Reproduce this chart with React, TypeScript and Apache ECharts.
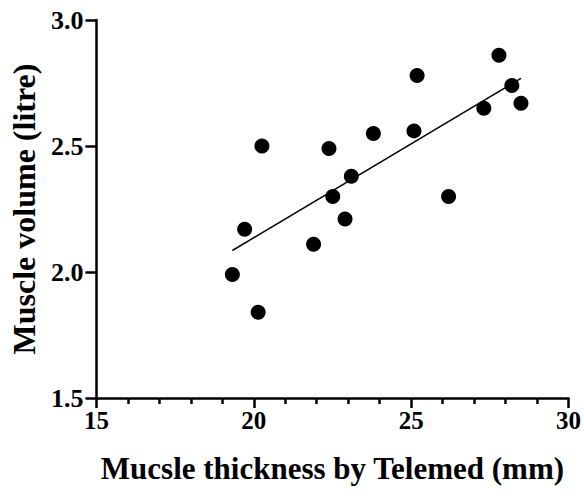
import React, { useEffect, useRef } from "react";
import * as echarts from "echarts";

const thickness = [19.32, 20.14, 19.71, 20.26, 21.9, 22.39, 22.51, 22.9, 23.1, 23.8, 25.09, 25.19, 26.19, 27.31, 27.79, 28.2, 28.49];
const volume = [1.99, 1.84, 2.17, 2.5, 2.11, 2.49, 2.3, 2.21, 2.38, 2.55, 2.56, 2.78, 2.3, 2.65, 2.86, 2.74, 2.67];
const xTicks = [15, 20, 25, 30];
const yTicks = [1.5, 2.0, 2.5, 3.0];

function fitLine(xs: number[], ys: number[]) {
  const n = xs.length;
  const mx = xs.reduce((a, b) => a + b, 0) / n;
  const my = ys.reduce((a, b) => a + b, 0) / n;
  let sxy = 0, sxx = 0;
  for (let i = 0; i < n; i++) {
    sxy += (xs[i] - mx) * (ys[i] - my);
    sxx += (xs[i] - mx) * (xs[i] - mx);
  }
  const b = sxy / sxx;
  const a = my - b * mx;
  const x0 = Math.min(...xs);
  const x1 = Math.max(...xs);
  return [[x0, a + b * x0], [x1, a + b * x1]];
}

export default function App() {
  const ref = useRef<HTMLDivElement>(null);
  useEffect(() => {
    const chart = echarts.init(ref.current!, null, { renderer: "svg" });
    const font = "'Liberation Serif', 'Times New Roman', serif";
    chart.setOption({
      animation: false,
      backgroundColor: "#fff",
      grid: { left: 95, right: 15, top: 20, bottom: 103 },
      xAxis: {
        type: "value",
        min: xTicks[0],
        max: xTicks[xTicks.length - 1],
        interval: 5,
        name: "Mucsle thickness by Telemed (mm)",
        nameLocation: "middle",
        nameGap: 55,
        nameTextStyle: { fontFamily: font, fontWeight: "bold", fontSize: 31, color: "#000" },
        axisLine: { onZero: false, lineStyle: { color: "#000", width: 2.5 } },
        axisTick: { length: 10, lineStyle: { color: "#000", width: 2.5 } },
        minorTick: { show: true, splitNumber: 5, length: 6, lineStyle: { color: "#000", width: 2.5 } },
        axisLabel: { fontFamily: font, fontWeight: "bold", fontSize: 25, color: "#000", margin: 10 },
        splitLine: { show: false },
      },
      yAxis: {
        type: "value",
        min: yTicks[0],
        max: yTicks[yTicks.length - 1],
        interval: 0.5,
        name: "Muscle volume (litre)",
        nameLocation: "middle",
        nameGap: 52,
        nameTextStyle: { fontFamily: font, fontWeight: "bold", fontSize: 32, color: "#000" },
        axisLine: { show: true, lineStyle: { color: "#000", width: 2.5 } },
        axisTick: { show: true, length: 11, lineStyle: { color: "#000", width: 2.5 } },
        axisLabel: {
          fontFamily: font, fontWeight: "bold", fontSize: 26, color: "#000", margin: 13,
          formatter: (v: number) => v.toFixed(1),
        },
        splitLine: { show: false },
      },
      series: [
        {
          type: "scatter",
          data: thickness.map((x, i) => [x, volume[i]]),
          symbolSize: 15,
          itemStyle: { color: "#000", opacity: 1 },
          z: 3,
        },
        {
          type: "line",
          data: fitLine(thickness, volume),
          symbol: "none",
          lineStyle: { color: "#000", width: 1.5 },
          z: 2,
        },
      ],
    });
    return () => chart.dispose();
  }, []);
  return <div ref={ref} style={{ width: 584, height: 501, position: "absolute", left: 0, top: 0 }} />;
}
